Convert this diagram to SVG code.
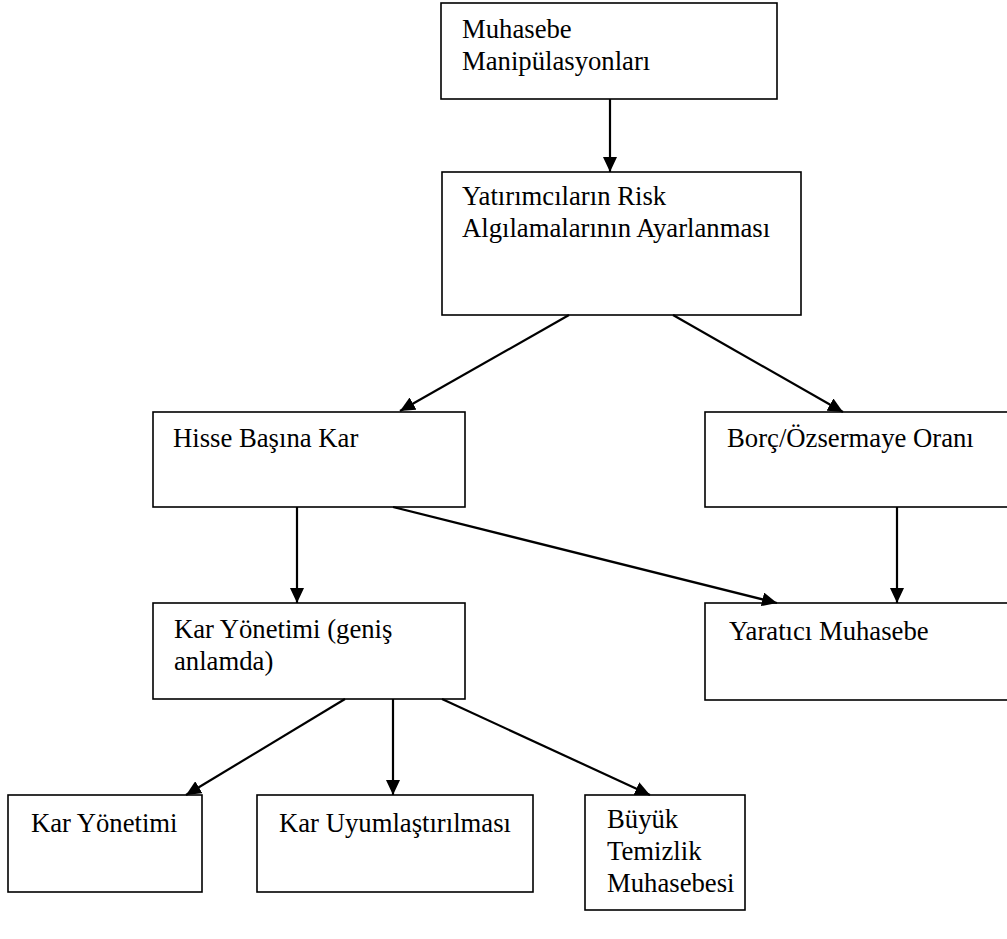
<svg xmlns="http://www.w3.org/2000/svg" width="1007" height="939" viewBox="0 0 1007 939">
<style>
.box{fill:#fff;stroke:#000;stroke-width:1.6}
.t{font-family:"Liberation Serif","Times New Roman",serif;font-size:26.7px;fill:#000}
.c{stroke:#000;stroke-width:2.2;fill:none;marker-end:url(#ah)}
</style>
<defs>
<marker id="ah" markerUnits="userSpaceOnUse" markerWidth="16" markerHeight="14" refX="15" refY="7" orient="auto">
<path d="M0,0 L15,7 L0,14 Z" fill="#000"/>
</marker>
</defs>
<rect width="1007" height="939" fill="#fff"/>
<g id="n1"><rect class="box" x="441" y="3" width="336" height="96"/><text class="t" x="462" y="38">Muhasebe</text><text class="t" x="462" y="70">Manipülasyonları</text></g>
<g id="n2"><rect class="box" x="442" y="172" width="359" height="143"/><text class="t" x="462" y="205">Yatırımcıların Risk</text><text class="t" x="462" y="237">Algılamalarının Ayarlanması</text></g>
<g id="n3"><rect class="box" x="153" y="412" width="312" height="95"/><text class="t" x="173" y="447">Hisse Başına Kar</text></g>
<g id="n4"><rect class="box" x="705" y="412" width="310" height="95"/><text class="t" x="727" y="447">Borç/Özsermaye Oranı</text></g>
<g id="n5"><rect class="box" x="153" y="603" width="312" height="96"/><text class="t" x="174" y="638">Kar Yönetimi (geniş</text><text class="t" x="174" y="670">anlamda)</text></g>
<g id="n6"><rect class="box" x="705" y="603" width="310" height="97"/><text class="t" x="729" y="640">Yaratıcı Muhasebe</text></g>
<g id="n7"><rect class="box" x="8" y="795" width="194" height="97"/><text class="t" x="31" y="832">Kar Yönetimi</text></g>
<g id="n8"><rect class="box" x="257" y="795" width="276" height="97"/><text class="t" x="279" y="832">Kar Uyumlaştırılması</text></g>
<g id="n9"><rect class="box" x="585" y="795" width="160" height="115"/><text class="t" x="607" y="828">Büyük</text><text class="t" x="607" y="860">Temizlik</text><text class="t" x="607" y="892">Muhasebesi</text></g>
<g id="connectors">
<line class="c" x1="610" y1="99" x2="610" y2="172"/>
<line class="c" x1="569" y1="315" x2="400" y2="411"/>
<line class="c" x1="673" y1="315" x2="843" y2="412"/>
<line class="c" x1="297" y1="507" x2="297" y2="603"/>
<line class="c" x1="897" y1="507" x2="897" y2="603"/>
<line class="c" x1="393" y1="507" x2="777" y2="603"/>
<line class="c" x1="345" y1="699" x2="186" y2="795"/>
<line class="c" x1="393" y1="699" x2="393" y2="795"/>
<line class="c" x1="442" y1="699" x2="650" y2="795"/>
</g>
</svg>
